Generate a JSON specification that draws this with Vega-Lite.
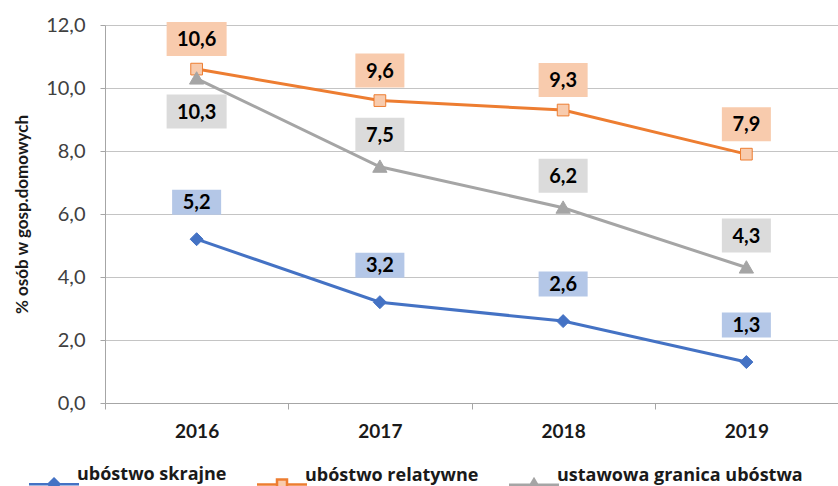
{
  "$schema": "https://vega.github.io/schema/vega-lite/v6.json",
  "width": 733,
  "height": 378,
  "padding": {"left": 105, "top": 25, "right": 0, "bottom": 83},
  "autosize": {"type": "none"},
  "config": {
    "view": {"stroke": null},
    "font": "Lato",
    "locale": {"number": {"decimal": ",", "thousands": " ", "grouping": [3], "currency": ["", ""]}},
    "axis": {"labelFont": "Lato", "titleFont": "Lato"},
    "legend": {"labelFont": "Open Sans"}
  },
  "data": {
    "values": [
      {"series": "ubóstwo skrajne", "year": "2016", "v": 5.2},
      {"series": "ubóstwo skrajne", "year": "2017", "v": 3.2},
      {"series": "ubóstwo skrajne", "year": "2018", "v": 2.6},
      {"series": "ubóstwo skrajne", "year": "2019", "v": 1.3},
      {"series": "ubóstwo relatywne", "year": "2016", "v": 10.6},
      {"series": "ubóstwo relatywne", "year": "2017", "v": 9.6},
      {"series": "ubóstwo relatywne", "year": "2018", "v": 9.3},
      {"series": "ubóstwo relatywne", "year": "2019", "v": 7.9},
      {"series": "ustawowa granica ubóstwa", "year": "2016", "v": 10.3},
      {"series": "ustawowa granica ubóstwa", "year": "2017", "v": 7.5},
      {"series": "ustawowa granica ubóstwa", "year": "2018", "v": 6.2},
      {"series": "ustawowa granica ubóstwa", "year": "2019", "v": 4.3}
    ]
  },
  "encoding": {
    "x": {
      "field": "year", "type": "ordinal",
      "scale": {"type": "band", "paddingInner": 0, "paddingOuter": 0},
      "axis": {
        "title": null, "labelAngle": 0, "tickBand": "extent",
        "labelFontSize": 19, "labelFontWeight": "bold", "labelColor": "#1a1a1a",
        "labelPadding": 13, "tickSize": 6, "tickColor": "#A6A6A6", "domainColor": "#A6A6A6",
        "grid": false
      }
    },
    "y": {
      "field": "v", "type": "quantitative",
      "scale": {"domain": [0, 12], "nice": false},
      "axis": {
        "title": "% osób w gosp.domowych",
        "titleFontSize": 17, "titleFontWeight": "bold", "titleColor": "#1a1a1a", "titlePadding": 14,
        "values": [0, 2, 4, 6, 8, 10, 12], "format": ".1f",
        "labelFontSize": 20, "labelColor": "#404040", "labelPadding": 15,
        "tickSize": 5, "tickColor": "#A6A6A6", "domainColor": "#A6A6A6",
        "grid": true, "gridColor": "#C4C4C4"
      }
    }
  },
  "layer": [
    {
      "mark": {"type": "line", "strokeWidth": 3},
      "encoding": {
        "color": {
          "field": "series", "type": "nominal",
          "scale": {"domain": ["ubóstwo skrajne", "ubóstwo relatywne", "ustawowa granica ubóstwa"], "range": ["#4472C4", "#ED7D31", "#A5A5A5"]},
          "legend": {"orient": "none", "legendX": -80, "legendY": 450, "direction": "horizontal", "title": null, "symbolSize": 100, "symbolStrokeWidth": 2.5, "symbolOffset": 20, "labelOffset": 14, "columnPadding": 25, "labelFontSize": 18, "labelFontWeight": "bold", "labelColor": "#1a1a1a", "labelLimit": 0, "labelBaseline": "bottom", "padding": 0,
            "encode": {"symbols": {"update": {
              "shape": {"signal": "datum.value == 'ubóstwo skrajne' ? 'M-5,0H5M0,-1.1L1.1,0L0,1.1L-1.1,0Z' : datum.value == 'ubóstwo relatywne' ? 'M-5,0H-1M1,0H5M-1,-1H1V1H-1Z' : 'M-5,0H5M0,-1.1L1.2,0.9H-1.2Z'"},
              "fill": {"signal": "datum.value == 'ubóstwo skrajne' ? '#4472C4' : datum.value == 'ubóstwo relatywne' ? '#F8CBAD' : '#A5A5A5'"},
              "opacity": {"value": 1}
            }}}}
        }
      }
    },
    {
      "mark": {"type": "point", "filled": true, "opacity": 1, "size": 169, "strokeWidth": 1},
      "encoding": {
        "shape": {
          "condition": [
            {"test": "datum.series == 'ubóstwo skrajne'", "value": "M0,-1L1,0L0,1L-1,0Z"},
            {"test": "datum.series == 'ubóstwo relatywne'", "value": "M-0.9,-0.9H0.9V0.9H-0.9Z"}
          ],
          "value": "M0,-1.05L1.1,0.85H-1.1Z"
        },
        "fill": {
          "condition": [
            {"test": "datum.series == 'ubóstwo skrajne'", "value": "#4472C4"},
            {"test": "datum.series == 'ubóstwo relatywne'", "value": "#F8CBAD"}
          ],
          "value": "#A5A5A5"
        },
        "stroke": {
          "condition": [
            {"test": "datum.series == 'ubóstwo skrajne'", "value": "#4472C4"},
            {"test": "datum.series == 'ubóstwo relatywne'", "value": "#ED7D31"}
          ],
          "value": "#A5A5A5"
        }
      }
    },
    {
      "transform": [{"filter": "datum.series == 'ubóstwo skrajne'"}],
      "mark": {"type": "point", "filled": true, "opacity": 1, "size": 3600, "strokeWidth": 0, "fill": "#B4C7E7", "yOffset": -37, "shape": "M-0.817,-0.417H0.817V0.417H-0.817Z"}
    },
    {
      "transform": [{"filter": "datum.series == 'ubóstwo skrajne'"}],
      "mark": {"type": "text", "fontSize": 20, "fontWeight": "bold", "color": "#000000", "baseline": "middle", "align": "center", "yOffset": -36},
      "encoding": {"text": {"field": "v", "type": "quantitative", "format": ".1f"}}
    },
    {
      "transform": [{"filter": "datum.series == 'ubóstwo relatywne'"}],
      "mark": {"type": "point", "filled": true, "opacity": 1, "size": 3600, "strokeWidth": 0, "fill": "#F8CBAD", "yOffset": -30},
      "encoding": {"shape": {"condition": {"test": "datum.v >= 10", "value": "M-1,-0.567H1V0.567H-1Z"}, "value": "M-0.817,-0.567H0.817V0.567H-0.817Z"}}
    },
    {
      "transform": [{"filter": "datum.series == 'ubóstwo relatywne'"}],
      "mark": {"type": "text", "fontSize": 20, "fontWeight": "bold", "color": "#000000", "baseline": "middle", "align": "center", "yOffset": -29},
      "encoding": {"text": {"field": "v", "type": "quantitative", "format": ".1f"}}
    },
    {
      "transform": [{"filter": "datum.series == 'ustawowa granica ubóstwa' && datum.year != '2016'"}],
      "mark": {"type": "point", "filled": true, "opacity": 1, "size": 3600, "strokeWidth": 0, "fill": "#DBDBDB", "yOffset": -32, "shape": "M-0.817,-0.567H0.817V0.567H-0.817Z"}
    },
    {
      "transform": [{"filter": "datum.series == 'ustawowa granica ubóstwa' && datum.year != '2016'"}],
      "mark": {"type": "text", "fontSize": 20, "fontWeight": "bold", "color": "#000000", "baseline": "middle", "align": "center", "yOffset": -31},
      "encoding": {"text": {"field": "v", "type": "quantitative", "format": ".1f"}}
    },
    {
      "transform": [{"filter": "datum.series == 'ustawowa granica ubóstwa' && datum.year == '2016'"}],
      "mark": {"type": "point", "filled": true, "opacity": 1, "size": 3600, "strokeWidth": 0, "fill": "#DBDBDB", "yOffset": 33, "shape": "M-1,-0.567H1V0.567H-1Z"}
    },
    {
      "transform": [{"filter": "datum.series == 'ustawowa granica ubóstwa' && datum.year == '2016'"}],
      "mark": {"type": "text", "fontSize": 20, "fontWeight": "bold", "color": "#000000", "baseline": "middle", "align": "center", "yOffset": 34},
      "encoding": {"text": {"field": "v", "type": "quantitative", "format": ".1f"}}
    }
  ]
}
